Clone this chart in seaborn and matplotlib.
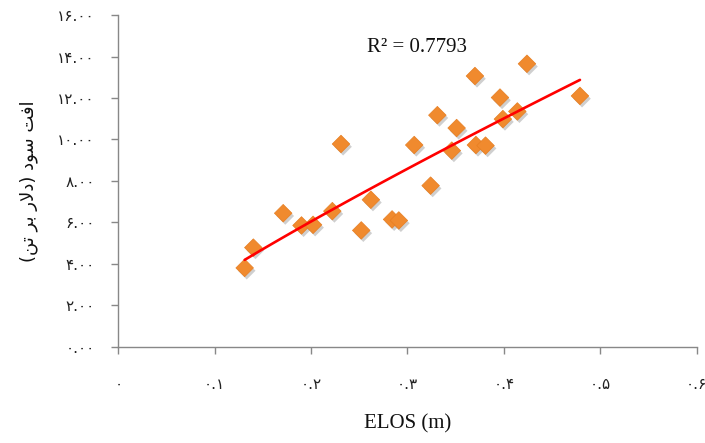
import matplotlib
matplotlib.use("Agg")
import matplotlib.pyplot as plt
import matplotlib.patheffects as pe
import seaborn as sns
import numpy as np
import pandas as pd

elos = [0.131, 0.140, 0.171, 0.190, 0.202, 0.222, 0.231, 0.252, 0.262, 0.284,
        0.291, 0.307, 0.324, 0.331, 0.346, 0.351, 0.370, 0.371, 0.381, 0.396,
        0.399, 0.414, 0.424, 0.479]
loss = [3.80, 4.78, 6.44, 5.85, 5.88, 6.54, 9.78, 5.61, 7.09, 6.14,
        6.09, 9.73, 7.77, 11.17, 9.46, 10.55, 13.06, 9.73, 9.70, 12.02,
        10.98, 11.35, 13.65, 12.10]

x_ticks = [0, 0.1, 0.2, 0.3, 0.4, 0.5, 0.6]
x_tick_labels = ["۰", "۰.۱", "۰.۲", "۰.۳", "۰.۴", "۰.۵", "۰.۶"]
y_ticks = [0, 2, 4, 6, 8, 10, 12, 14, 16]
y_tick_labels = ["۰.۰۰", "۲.۰۰", "۴.۰۰", "۶.۰۰", "۸.۰۰", "۱۰.۰۰", "۱۲.۰۰", "۱۴.۰۰", "۱۶.۰۰"]
x_title = "ELOS (m)"
# "افت سود (دلار بر تن)" in visual order with presentation forms
y_title = "(\uFEE6\uFE97 \uFEAE\uFE91 \uFEAD\uFEFB\uFEA9) \uFEA9\uFEEE\uFEB3 \uFE96\uFED3\uFE8D"
r2_text = "R² = 0.7793"

df = pd.DataFrame({"elos": elos, "loss": loss})

# power trendline (as in a spreadsheet trendline), fitted from the data
b, loga = np.polyfit(np.log(df["elos"]), np.log(df["loss"]), 1)
fx = np.linspace(df["elos"].min(), df["elos"].max(), 100)
fit = pd.DataFrame({"elos": fx, "loss": np.exp(loga) * fx ** b})

sns.set_style("white")
plt.rcParams["font.family"] = ["DejaVu Sans"]

fig = plt.figure(figsize=(7.05, 4.43), dpi=100)
ax = fig.add_axes([0.168, 0.2174, 0.820, 0.7486])

sns.scatterplot(data=df, x="elos", y="loss", marker="D", s=80,
                color="#F08A2E", edgecolor="#E67E22", linewidth=0.5, ax=ax, zorder=3)
for coll in ax.collections:
    coll.set_path_effects([pe.SimplePatchShadow(offset=(1.5, -2), alpha=0.35, shadow_rgbFace="#777777"), pe.Normal()])

sns.lineplot(data=fit, x="elos", y="loss", color="#FF0000", linewidth=1.9, ax=ax, zorder=4)

ax.set_xlim(0, 0.6)
ax.set_ylim(0, 16)
ax.set_xticks(x_ticks)
ax.set_xticklabels(x_tick_labels, fontsize=11, family="DejaVu Sans")
ax.set_yticks(y_ticks)
ax.set_yticklabels(y_tick_labels, fontsize=11, family="DejaVu Sans")

for s in ["top", "right"]:
    ax.spines[s].set_visible(False)
for s in ["left", "bottom"]:
    ax.spines[s].set_color("#888888")
    ax.spines[s].set_linewidth(1.0)

ax.tick_params(axis="x", direction="out", length=5, width=1, color="#888888", pad=17, labelcolor="#222222")
ax.tick_params(axis="y", direction="out", length=5, width=1, color="#888888", pad=12, labelcolor="#222222")
ax.xaxis.set_ticks_position("bottom")
ax.yaxis.set_ticks_position("left")

ax.set_xlabel(x_title, fontsize=15, family="Liberation Serif", labelpad=16, color="#111111")
ax.set_ylabel(y_title, fontsize=13, family="DejaVu Sans", labelpad=14, color="#111111")

ax.text(0.31, 14.45, r2_text, fontsize=15, family="Liberation Serif",
        ha="center", va="center", color="#111111")

fig.savefig("out.png", dpi=100)
